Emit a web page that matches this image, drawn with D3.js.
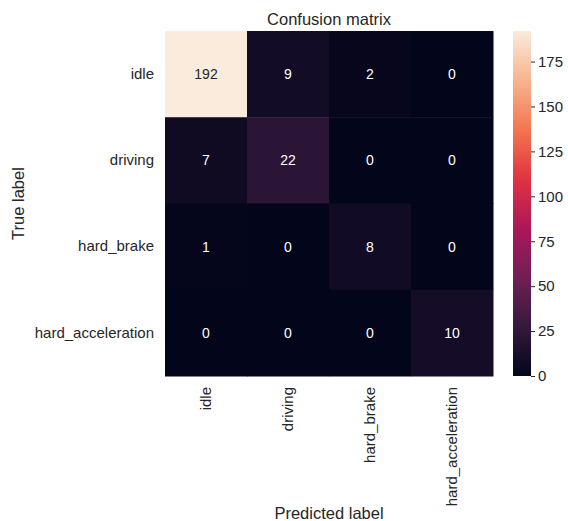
<!DOCTYPE html>
<html>
<head>
<meta charset="utf-8">
<script src="https://cdn.jsdelivr.net/npm/d3@7"></script>
<style>
  html, body { margin: 0; padding: 0; background: #fff; }
  svg { display: block; font-family: "Liberation Sans", Arial, sans-serif; }
</style>
</head>
<body>
<svg id="chart" width="568" height="521"></svg>
<script>
// Class names, in row (true) and column (predicted) order
const classes = ["idle", "driving", "hard_brake", "hard_acceleration"];

// Confusion counts, one array per true class
const rowIdle = [192, 9, 2, 0];
const rowDriving = [7, 22, 0, 0];
const rowHardBrake = [1, 0, 8, 0];
const rowHardAccel = [0, 0, 0, 10];
const matrix = [rowIdle, rowDriving, rowHardBrake, rowHardAccel];

// Colorbar tick values
const colorbarTicks = [0, 25, 50, 75, 100, 125, 150, 175];

// "rocket" colormap anchor colours
const rocketStops = ["#03051a", "#35193e", "#701f57", "#ad1759", "#e13342", "#f37651", "#f6b48f", "#faebdd"];
const rocketPos = [0, 1/7, 2/7, 3/7, 4/7, 5/7, 6/7, 1];

const svg = d3.select("#chart");
const textColor = "#262626";

const plotLeft = 165, plotRight = 493, plotTop = 31, plotBottom = 376;

const x = d3.scaleBand().domain(classes).range([plotLeft, plotRight]);
const y = d3.scaleBand().domain(classes).range([plotTop, plotBottom]);

const vmin = 0, vmax = d3.max(matrix.flat());
const rocket = d3.scaleLinear().domain(rocketPos).range(rocketStops).interpolate(d3.interpolateRgb);
const color = v => rocket((v - vmin) / (vmax - vmin));

const cells = [];
matrix.forEach((row, i) => row.forEach((v, j) => cells.push({ t: classes[i], p: classes[j], v })));

// Heatmap cells
svg.append("g").selectAll("rect").data(cells).join("rect")
  .attr("x", d => x(d.p))
  .attr("y", d => y(d.t))
  .attr("width", x.bandwidth() + 0.5)
  .attr("height", y.bandwidth() + 0.5)
  .attr("fill", d => color(d.v));

// Cell annotations: dark text on light cells, white on dark
function luminance(c) {
  const rgb = d3.rgb(c);
  const f = u => { u /= 255; return u <= 0.03928 ? u / 12.92 : Math.pow((u + 0.055) / 1.055, 2.4); };
  return 0.2126 * f(rgb.r) + 0.7152 * f(rgb.g) + 0.0722 * f(rgb.b);
}
svg.append("g").selectAll("text").data(cells).join("text")
  .attr("x", d => x(d.p) + x.bandwidth() / 2)
  .attr("y", d => y(d.t) + y.bandwidth() / 2)
  .attr("text-anchor", "middle")
  .attr("dominant-baseline", "central")
  .attr("font-size", 14)
  .attr("fill", d => luminance(color(d.v)) > 0.408 ? textColor : "#ffffff")
  .text(d => d.v);

// Axes (no tick marks, labels only)
const yAxis = svg.append("g")
  .attr("transform", `translate(${plotLeft},0)`)
  .call(d3.axisLeft(y).tickSize(0).tickPadding(11));
yAxis.select(".domain").remove();
yAxis.selectAll("text").attr("font-size", 15).attr("fill", textColor)
  .attr("font-family", "Liberation Sans, Arial, sans-serif");

const xAxis = svg.append("g")
  .attr("transform", `translate(0,${plotBottom})`)
  .call(d3.axisBottom(x).tickSize(0));
xAxis.select(".domain").remove();
xAxis.selectAll("text")
  .attr("font-size", 15).attr("fill", textColor)
  .attr("font-family", "Liberation Sans, Arial, sans-serif")
  .attr("transform", "rotate(-90)")
  .attr("text-anchor", "end")
  .attr("x", -11)
  .attr("y", 0)
  .attr("dy", "0.35em");

// Title and axis labels
svg.append("text")
  .attr("x", (plotLeft + plotRight) / 2).attr("y", 25)
  .attr("text-anchor", "middle")
  .attr("font-size", 16.5).attr("fill", textColor)
  .text("Confusion matrix");

svg.append("text")
  .attr("x", (plotLeft + plotRight) / 2).attr("y", 519)
  .attr("text-anchor", "middle")
  .attr("font-size", 16.5).attr("fill", textColor)
  .text("Predicted label");

svg.append("text")
  .attr("transform", `translate(24,${(plotTop + plotBottom) / 2}) rotate(-90)`)
  .attr("text-anchor", "middle")
  .attr("font-size", 16.5).attr("fill", textColor)
  .text("True label");

// Colorbar
const cbLeft = 513, cbWidth = 18;
const cbScale = d3.scaleLinear().domain([vmin, vmax]).range([plotBottom, plotTop]);

const defs = svg.append("defs");
const grad = defs.append("linearGradient")
  .attr("id", "rocketGrad")
  .attr("x1", 0).attr("y1", 1).attr("x2", 0).attr("y2", 0);
d3.range(0, 1.0001, 0.02).forEach(t => {
  grad.append("stop").attr("offset", t).attr("stop-color", rocket(t));
});

svg.append("rect")
  .attr("x", cbLeft).attr("y", plotTop)
  .attr("width", cbWidth).attr("height", plotBottom - plotTop)
  .attr("fill", "url(#rocketGrad)");

const cbAxis = svg.append("g")
  .attr("transform", `translate(${cbLeft + cbWidth},0)`)
  .call(d3.axisRight(cbScale).tickValues(colorbarTicks).tickSize(4).tickPadding(3));
cbAxis.select(".domain").remove();
cbAxis.selectAll("line").attr("stroke", textColor);
cbAxis.selectAll("text").attr("font-size", 15).attr("fill", textColor)
  .attr("font-family", "Liberation Sans, Arial, sans-serif");
</script>
</body>
</html>
